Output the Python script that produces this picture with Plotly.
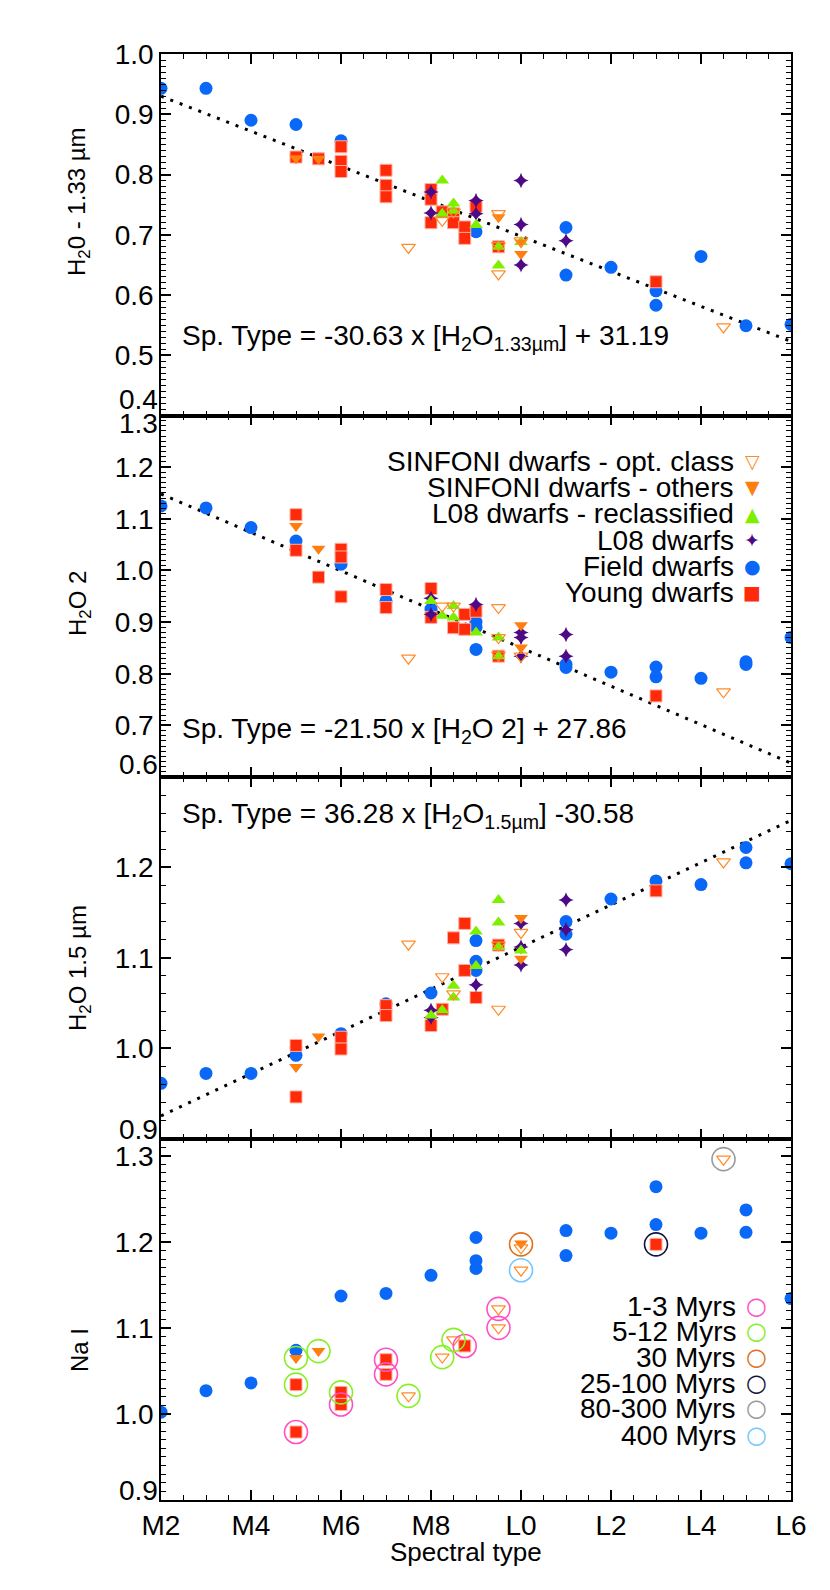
import plotly.graph_objects as go
from plotly.subplots import make_subplots

# spectral type axis: M2=2 ... M9=9, L0=10 ... L6=16
sp_ticks = [2, 4, 6, 8, 10, 12, 14, 16]
sp_labels = ['M2', 'M4', 'M6', 'M8', 'L0', 'L2', 'L4', 'L6']

# ---------------- panel 1 : H2O 1.33 um
p1_field_x = [2, 3, 4, 5, 6, 9, 11, 11, 12, 13, 13, 14, 15, 16]
p1_field_y = [0.943, 0.943, 0.890, 0.883, 0.856, 0.705, 0.712, 0.633, 0.646, 0.607, 0.583, 0.664, 0.549, 0.551]
p1_young_x = [5, 5.5, 6, 6, 6, 7, 7, 7, 8, 8, 8, 8.25, 8.5, 8.5, 8.75, 8.75, 9, 9.5, 13]
p1_young_y = [0.829, 0.826, 0.846, 0.822, 0.805, 0.807, 0.782, 0.763, 0.775, 0.759, 0.720, 0.738,
              0.735, 0.720, 0.713, 0.694, 0.747, 0.680, 0.622]
p1_l08_x = [8, 8, 9, 9, 10, 10, 10, 11]
p1_l08_y = [0.771, 0.736, 0.757, 0.735, 0.790, 0.717, 0.650, 0.690]
p1_l08r_x = [8.25, 8.25, 8.5, 8.5, 9, 9.5, 9.5, 10]
p1_l08r_y = [0.790, 0.735, 0.752, 0.740, 0.716, 0.680, 0.649, 0.688]
p1_sinf_x = [5, 5.5, 9.5, 10, 10]
p1_sinf_y = [0.827, 0.826, 0.729, 0.687, 0.668]
p1_opt_x = [7.5, 8.25, 8.5, 9.5, 9.5, 9.5, 10, 14.5]
p1_opt_y = [0.679, 0.724, 0.738, 0.735, 0.682, 0.635, 0.690, 0.547]
p1_fit_x = [2, 16]
p1_fit_y = [0.930, 0.523]

# ---------------- panel 2 : H2O 2
p2_field_x = [2, 3, 4, 5, 6, 7, 8, 9, 9, 9, 11, 11, 12, 13, 13, 14, 15, 15, 16]
p2_field_y = [1.125, 1.121, 1.083, 1.057, 1.012, 0.941, 0.925, 0.900, 0.890, 0.847, 0.818, 0.812,
              0.803, 0.813, 0.794, 0.791, 0.823, 0.818, 0.870]
p2_young_x = [5, 5, 5.5, 6, 6, 6, 7, 7, 8, 8, 8.5, 8.75, 8.75, 9, 9.5, 13]
p2_young_y = [1.108, 1.039, 0.987, 1.041, 1.026, 0.949, 0.963, 0.928, 0.965, 0.909, 0.889, 0.915,
              0.886, 0.921, 0.834, 0.757]
p2_l08_x = [8, 8, 9, 10, 10, 10, 11, 11]
p2_l08_y = [0.946, 0.915, 0.934, 0.880, 0.870, 0.834, 0.876, 0.834]
p2_l08r_x = [8, 8.25, 8.5, 8.5, 9, 9.5, 9.5]
p2_l08r_y = [0.941, 0.912, 0.931, 0.909, 0.880, 0.870, 0.834]
p2_sinf_x = [5, 5.5, 10, 10]
p2_sinf_y = [1.086, 1.042, 0.894, 0.851]
p2_opt_x = [7.5, 8.25, 8.5, 9.5, 9.5, 9.5, 10, 14.5]
p2_opt_y = [0.830, 0.931, 0.931, 0.928, 0.870, 0.836, 0.834, 0.765]
p2_fit_x = [2, 16]
p2_fit_y = [1.148, 0.627]

# ---------------- panel 3 : H2O 1.5 um
p3_field_x = [2, 3, 4, 5, 6, 7, 8, 9, 9, 9, 11, 11, 12, 13, 14, 15, 15, 16]
p3_field_y = [0.961, 0.972, 0.972, 0.992, 1.016, 1.049, 1.061, 1.119, 1.096, 1.086, 1.140, 1.126,
              1.165, 1.185, 1.181, 1.222, 1.205, 1.204]
p3_young_x = [5, 5, 6, 6, 7, 7, 8, 8.25, 8.5, 8.75, 8.75, 9, 9.5, 13]
p3_young_y = [1.003, 0.946, 1.012, 0.999, 1.047, 1.036, 1.025, 1.043, 1.122, 1.138, 1.086, 1.056, 1.114, 1.174]
p3_l08_x = [8, 8, 9, 10, 10, 10, 11, 11, 11]
p3_l08_y = [1.042, 1.034, 1.070, 1.138, 1.112, 1.092, 1.164, 1.131, 1.109]
p3_l08r_x = [8, 8.25, 8.5, 8.5, 9, 9, 9.5, 9.5, 9.5, 10]
p3_l08r_y = [1.036, 1.042, 1.069, 1.056, 1.129, 1.091, 1.164, 1.139, 1.112, 1.108]
p3_sinf_x = [5, 5.5, 10, 10]
p3_sinf_y = [0.979, 1.013, 1.144, 1.099]
p3_opt_x = [7.5, 8.25, 8.5, 9.5, 9.5, 10, 14.5]
p3_opt_y = [1.115, 1.079, 1.060, 1.114, 1.043, 1.128, 1.206]
p3_fit_x = [2, 16]
p3_fit_y = [0.925, 1.252]

# ---------------- panel 4 : Na I
p4_field_x = [2, 3, 4, 5, 6, 7, 8, 9, 9, 9, 11, 11, 12, 13, 13, 14, 15, 15, 16]
p4_field_y = [1.002, 1.027, 1.036, 1.074, 1.137, 1.140, 1.161, 1.205, 1.178, 1.169, 1.213, 1.184,
              1.210, 1.264, 1.220, 1.210, 1.237, 1.211, 1.134]
p4_young_x = [5, 5, 6, 6, 7, 7, 8.75, 13]
p4_young_y = [1.034, 0.979, 1.025, 1.011, 1.063, 1.046, 1.079, 1.197]
p4_sinf_x = [5, 5.5, 10]
p4_sinf_y = [1.065, 1.073, 1.198]
p4_opt_x = [7.5, 8.25, 8.5, 9.5, 9.5, 10, 10, 14.5]
p4_opt_y = [1.021, 1.066, 1.086, 1.122, 1.100, 1.193, 1.167, 1.296]

# age rings (panel 4)
age_names = ['1-3 Myrs', '5-12 Myrs', '30 Myrs', '25-100 Myrs', '80-300 Myrs', '400 Myrs']
age_colors = ['#ff4fc4', '#86f024', '#e0701c', '#14143c', '#9a9a9a', '#74c8ff']
age_x = [[5, 6, 7, 7, 8.75, 9.5, 9.5],
         [5, 5, 5.5, 6, 7.5, 8.25, 8.5],
         [10],
         [13],
         [14.5],
         [10]]
age_y = [[0.979, 1.011, 1.063, 1.046, 1.079, 1.122, 1.100],
         [1.065, 1.034, 1.073, 1.025, 1.021, 1.066, 1.086],
         [1.197],
         [1.197],
         [1.296],
         [1.167]]

C_FIELD = '#0a68f8'
C_YOUNG = '#ff2a0a'
C_L08 = '#4e0a86'
C_L08R = '#7fef00'
C_SINF = '#ff7f0e'
C_OPT = '#ff8c2a'

groups = [
    ('Field dwarfs', 'circle', C_FIELD, 13, 0, None),
    ('Young dwarfs', 'square', C_YOUNG, 12, 1, '#ffb0a0'),
    ('L08 dwarfs', 'star-diamond', C_L08, 11, 0, None),
    ('L08 dwarfs - reclassified', 'triangle-up', C_L08R, 12, 0, None),
    ('SINFONI dwarfs - others', 'triangle-down', C_SINF, 12, 0, None),
    ('SINFONI dwarfs - opt. class', 'triangle-down-open', C_OPT, 12, 1.2, C_OPT),
]

panels = [
    [(p1_field_x, p1_field_y), (p1_young_x, p1_young_y), (p1_l08_x, p1_l08_y),
     (p1_l08r_x, p1_l08r_y), (p1_sinf_x, p1_sinf_y), (p1_opt_x, p1_opt_y)],
    [(p2_field_x, p2_field_y), (p2_young_x, p2_young_y), (p2_l08_x, p2_l08_y),
     (p2_l08r_x, p2_l08r_y), (p2_sinf_x, p2_sinf_y), (p2_opt_x, p2_opt_y)],
    [(p3_field_x, p3_field_y), (p3_young_x, p3_young_y), (p3_l08_x, p3_l08_y),
     (p3_l08r_x, p3_l08r_y), (p3_sinf_x, p3_sinf_y), (p3_opt_x, p3_opt_y)],
    [(p4_field_x, p4_field_y), (p4_young_x, p4_young_y), ([], []),
     ([], []), (p4_sinf_x, p4_sinf_y), (p4_opt_x, p4_opt_y)],
]
fits = [(p1_fit_x, p1_fit_y), (p2_fit_x, p2_fit_y), (p3_fit_x, p3_fit_y), None]

fig = make_subplots(rows=4, cols=1, shared_xaxes=True, vertical_spacing=0)

for row, pdata in enumerate(panels, start=1):
    fit = fits[row - 1]
    if fit is not None:
        fig.add_trace(go.Scatter(x=fit[0], y=fit[1], mode='lines',
                                 line=dict(color='black', width=3, dash='3px,7px'),
                                 showlegend=False, hoverinfo='skip'), row=row, col=1)
    for (name, sym, col, size, lw, lc), (xs, ys) in zip(groups, pdata):
        if not xs:
            continue
        fig.add_trace(go.Scatter(
            x=xs, y=ys, mode='markers', name=name, showlegend=False,
            marker=dict(symbol=sym, color=col, size=size,
                        line=dict(width=lw, color=lc if lc else col))),
            row=row, col=1)

for name, col, xs, ys in zip(age_names, age_colors, age_x, age_y):
    fig.add_trace(go.Scatter(x=xs, y=ys, mode='markers', name=name, showlegend=False,
                             marker=dict(symbol='circle-open', size=23, color=col,
                                         line=dict(width=1.6, color=col))),
                  row=4, col=1)

FONT = 'Liberation Sans, Arial, Helvetica, sans-serif'
FS = 28
axis_common = dict(showline=True, linecolor='black', linewidth=1.5, mirror='allticks',
                   ticks='inside', tickcolor='black', tickwidth=1.5, ticklen=10,
                   showgrid=False, zeroline=False,
                   tickfont=dict(family=FONT, size=FS, color='black'))

for row in range(1, 5):
    fig.update_xaxes(range=[2, 16], tickvals=sp_ticks, ticktext=sp_labels,
                     minor=dict(ticks='inside', ticklen=5, dtick=0.5, tick0=0,
                                tickcolor='black', tickwidth=1.2),
                     row=row, col=1, **axis_common)

# tick labels sitting on a panel boundary are drawn separately (shifted inside, as in the original)
ycfg = [
    ([0.4, 1.0], [0.4, 0.5, 0.6, 0.7, 0.8, 0.9, 1.0], ['', '0.5', '0.6', '0.7', '0.8', '0.9', '1.0'], 0.01),
    ([0.6, 1.3], [0.6, 0.7, 0.8, 0.9, 1.0, 1.1, 1.2, 1.3], ['', '0.7', '0.8', '0.9', '1.0', '1.1', '1.2', ''], 0.01),
    ([0.9, 1.3], [0.9, 1.0, 1.1, 1.2], ['', '1.0', '1.1', '1.2'], 0.02),
    ([0.9, 1.32], [0.9, 1.0, 1.1, 1.2, 1.3], ['', '1.0', '1.1', '1.2', '1.3'], 0.01),
]
for row, (rng, tv, tt, mdt) in enumerate(ycfg, start=1):
    fig.update_yaxes(range=rng, tickvals=tv, ticktext=tt,
                     minor=dict(ticks='inside', ticklen=5, dtick=mdt, tick0=0,
                                tickcolor='black', tickwidth=1.2),
                     row=row, col=1, **axis_common)


def py(p):
    # pixel row -> paper coordinate
    return (1492 - p) / 1446


def px(p):
    return (p - 153) / 630


# axis titles
y_titles = ['H<sub>2</sub>0 - 1.33 µm', 'H<sub>2</sub>O 2', 'H<sub>2</sub>O 1.5 µm', 'Na I']
y_title_rows = [194, 596, 960, 1342]
for t, r in zip(y_titles, y_title_rows):
    fig.add_annotation(xref='paper', yref='paper', x=px(71), y=py(r), xanchor='center', yanchor='middle',
                       text=t, textangle=-90, showarrow=False, font=dict(family=FONT, size=24, color='black'))
fig.add_annotation(xref='paper', yref='paper', x=px(458), y=py(1544), xanchor='center', yanchor='middle',
                   text='Spectral type', showarrow=False, font=dict(family=FONT, size=26, color='black'))

edge_labels = [('0.4', 391), ('1.3', 415), ('0.6', 756), ('0.9', 1121), ('0.9', 1482)]
for t, r in edge_labels:
    fig.add_annotation(xref='paper', yref='paper', x=px(152), y=py(r), xanchor='right', yanchor='middle',
                       text=t, showarrow=False, font=dict(family=FONT, size=FS, color='black'))

annots = [
    dict(text='Sp. Type = -30.63 x [H<sub>2</sub>O<sub>1.33µm</sub>] + 31.19', x=px(172), y=py(330)),
    dict(text='Sp. Type = -21.50 x [H<sub>2</sub>O 2] + 27.86', x=px(172), y=py(722)),
    dict(text='Sp. Type = 36.28 x [H<sub>2</sub>O<sub>1.5µm</sub>] -30.58', x=px(172), y=py(807)),
]
for a in annots:
    fig.add_annotation(xref='paper', yref='paper', xanchor='left', yanchor='middle', showarrow=False,
                       font=dict(family=FONT, size=FS, color='black'), **a)

# legend of panel 2 (text then symbol, right aligned)
leg_names = ['SINFONI dwarfs - opt. class', 'SINFONI dwarfs - others', 'L08 dwarfs - reclassified',
             'L08 dwarfs', 'Field dwarfs', 'Young dwarfs']
leg_glyphs = ['▽', '▼', '▲', '✦', '●', '■']
leg_colors = [C_OPT, C_SINF, C_L08R, C_L08, C_FIELD, C_YOUNG]
leg_rows = [453, 479, 506, 532, 558, 584]
for name, g, c, r in zip(leg_names, leg_glyphs, leg_colors, leg_rows):
    fig.add_annotation(xref='paper', yref='paper', x=px(728), y=py(r), xanchor='right', yanchor='middle',
                       text=name, showarrow=False, font=dict(family=FONT, size=FS, color='black'))
    fig.add_annotation(xref='paper', yref='paper', x=px(744), y=py(r), xanchor='center', yanchor='middle',
                       text=g, showarrow=False, font=dict(family='DejaVu Sans', size=19, color=c))

# age legend of panel 4
age_rows = [1298, 1323, 1349, 1375, 1400, 1427]
for name, c, r in zip(age_names, age_colors, age_rows):
    fig.add_annotation(xref='paper', yref='paper', x=px(730), y=py(r), xanchor='right', yanchor='middle',
                       text=name, showarrow=False, font=dict(family=FONT, size=FS, color='black'))
    fig.add_annotation(xref='paper', yref='paper', x=px(748), y=py(r), xanchor='center', yanchor='middle',
                       text='○', showarrow=False, font=dict(family='DejaVu Sans', size=24, color=c))

fig.update_layout(width=830, height=1590, plot_bgcolor='white', paper_bgcolor='white',
                  margin=dict(l=153, r=47, t=46, b=98), showlegend=False,
                  font=dict(family=FONT, size=FS, color='black'))

fig.write_html('out.html')
